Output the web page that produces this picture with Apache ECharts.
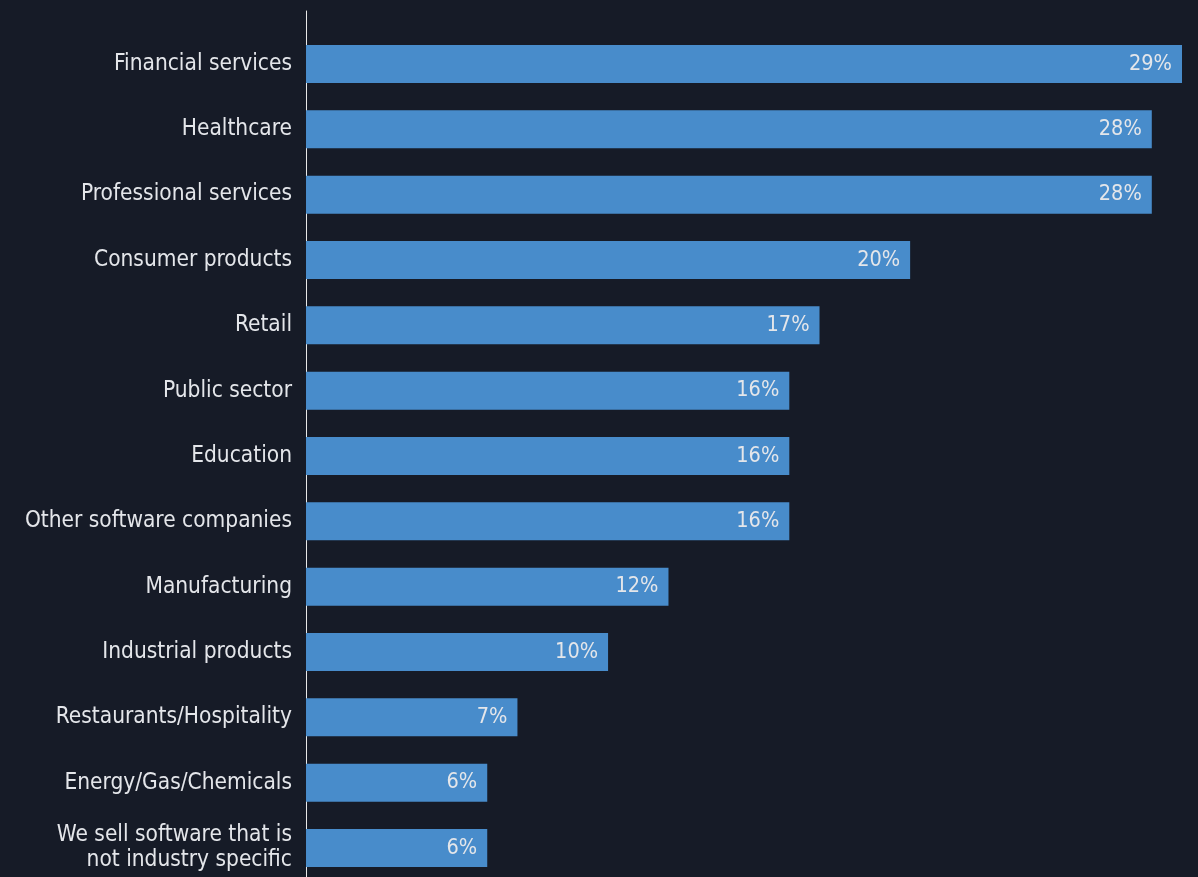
<!DOCTYPE html>
<html>
<head>
<meta charset="utf-8">
<script src="https://cdn.jsdelivr.net/npm/echarts@6/dist/echarts.min.js"></script>
<style>
  html, body { margin: 0; padding: 0; background: #161b27; }
  #chart { width: 1198px; height: 877px; }
</style>
</head>
<body>
<div id="chart"></div>
<script>
// Industries served, share of respondents (%)
const categories = [
  'Financial services',
  'Healthcare',
  'Professional services',
  'Consumer products',
  'Retail',
  'Public sector',
  'Education',
  'Other software companies',
  'Manufacturing',
  'Industrial products',
  'Restaurants/Hospitality',
  'Energy/Gas/Chemicals',
  'We sell software that is\nnot industry specific'
];
const shares = [29, 28, 28, 20, 17, 16, 16, 16, 12, 10, 7, 6, 6];

const FONT = '"DejaVu Sans Condensed", "DejaVu Sans", sans-serif';
const TEXT = '#e4e6ea';

// single-line names sit a touch above the bar centre; the wrapped one a touch below
const categoryItems = categories.map(name => ({
  value: name,
  textStyle: name.includes('\n')
    ? { padding: [3, 0, 0, 0] }
    : { padding: [0, 0, 4, 0] }
}));

const chart = echarts.init(document.getElementById('chart'), null, { renderer: 'canvas' });
chart.setOption({
  backgroundColor: '#161b27',
  animation: false,
  grid: [
    // bars
    { left: 306, top: 31.3, width: 876, height: 849.4, containLabel: false, outerBoundsMode: 'none' },
    // full-height vertical baseline
    { left: 306, top: 11, width: 876, bottom: 0, containLabel: false, outerBoundsMode: 'none' }
  ],
  xAxis: [
    { type: 'value', gridIndex: 0, min: 0, max: 29, show: false },
    { type: 'value', gridIndex: 1, min: 0, max: 1, show: false }
  ],
  yAxis: [
    {
      type: 'category',
      gridIndex: 0,
      data: categoryItems,
      inverse: true,
      axisLine: { show: false },
      axisTick: { show: false },
      splitLine: { show: false },
      axisLabel: {
        color: TEXT,
        fontFamily: FONT,
        fontSize: 22.5,
        margin: 14,
        lineHeight: 25,
        align: 'right'
      }
    },
    {
      type: 'value',
      gridIndex: 1,
      min: 0,
      max: 1,
      axisLine: { show: true, onZero: false, lineStyle: { color: '#e8e8e8', width: 1 } },
      axisTick: { show: false },
      axisLabel: { show: false },
      splitLine: { show: false }
    }
  ],
  series: [{
    type: 'bar',
    xAxisIndex: 0,
    yAxisIndex: 0,
    data: shares,
    barWidth: 38,
    itemStyle: { color: '#488ccb' },
    label: {
      show: true,
      position: 'insideRight',
      distance: 10,
      formatter: '{c}%',
      color: TEXT,
      fontFamily: FONT,
      fontSize: 21.5
    }
  }]
});
</script>
</body>
</html>
